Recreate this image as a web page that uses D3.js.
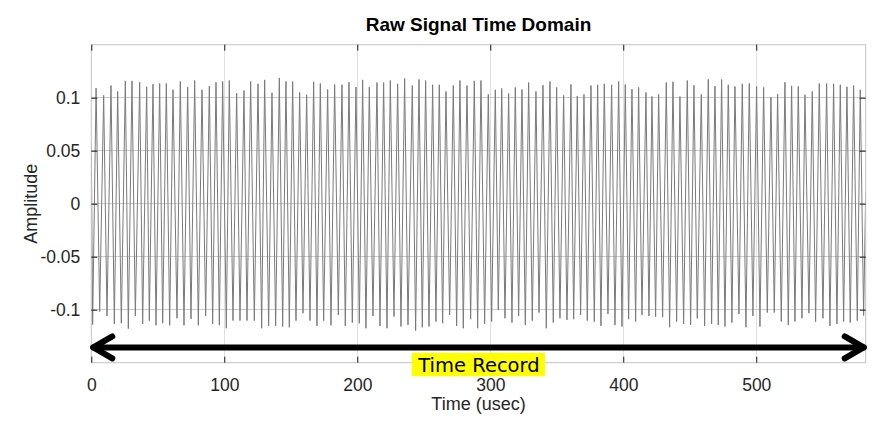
<!DOCTYPE html>
<html>
<head>
<meta charset="utf-8">
<script src="https://cdn.jsdelivr.net/npm/d3@7"></script>
<style>
  html, body { margin: 0; padding: 0; background: #fff; }
  svg { display: block; }
</style>
</head>
<body>
<svg id="chart" width="888" height="430"></svg>
<script>
// ---- Data (time in usec, amplitude) ----
const startPoint = [0, 0.0558];
const endPoint = [582.3, 0.0117];

const peakTimes = [
  3.6, 9.30, 14.81, 19.82, 25.59, 30.60, 36.37, 41.63, 46.39, 51.40, 56.42, 61.43, 66.94, 72.46, 77.72, 83.23, 88.75, 93.76, 98.77, 103.78,
  109.30, 114.81, 119.82, 125.34, 130.35, 135.86, 141.38, 146.39, 151.40, 156.67, 161.93, 167.19, 172.21, 177.72, 182.98, 188.50, 193.76,
  199.02, 204.03, 209.05, 214.81, 219.82, 224.84, 230.35, 235.61, 241.38, 246.39, 251.40, 256.66, 261.68, 266.69, 272.20, 277.22, 282.48,
  287.99, 293.01, 298.52, 303.78, 308.6, 313.81, 318.82, 323.84, 328.85, 334.36, 339.62, 344.89, 349.90, 355.16, 360.68, 365.44, 370.45,
  375.71, 380.73, 385.74,
  391.25, 396.52, 401.53, 406.54, 411.55, 417.07, 421.58, 426.59, 432.36, 437.37, 442.63, 448.14, 453.16, 458.67, 463.94, 468.95, 473.96,
  478.97, 483.98, 489.50, 494.76, 500.27, 505.54, 511.05, 516.07, 521.58, 526.59, 531.60, 536.62, 542.13, 547.40, 552.91, 558.17, 563.19,
  568.20, 573.21, 578.22
];
const peakValues = [
  0.1090, 0.1022, 0.1115, 0.1059, 0.1159, 0.1159, 0.1146, 0.1103, 0.1128, 0.1134, 0.1134, 0.1075, 0.1153, 0.1100, 0.1162, 0.1075, 0.1109, 0.1146, 0.1153, 0.1162,
  0.1043, 0.1068, 0.1153, 0.1131, 0.1168, 0.1047, 0.1187, 0.1153, 0.1153, 0.1050, 0.1028, 0.1150, 0.1134, 0.1078, 0.1125, 0.1122, 0.1146,
  0.1100, 0.1168, 0.1100, 0.1143, 0.1143, 0.1162, 0.1131, 0.1181, 0.1115, 0.1172, 0.1162, 0.1122, 0.1122, 0.1059, 0.1115, 0.1162, 0.1115,
  0.1159, 0.1162, 0.1031, 0.1075, 0.1087, 0.1040, 0.1097, 0.1078, 0.1143, 0.1059, 0.1118, 0.1153, 0.1097, 0.1022, 0.1125, 0.1015, 0.1031,
  0.1115, 0.1122, 0.1131,
  0.1122, 0.1153, 0.1125, 0.1081, 0.1097, 0.1050, 0.1012, 0.1031, 0.1143, 0.1150, 0.1012, 0.1162, 0.1118, 0.1031, 0.1172, 0.1109, 0.1172,
  0.1122, 0.1106, 0.1131, 0.1134, 0.1106, 0.1097, 0.1006, 0.1034, 0.1146, 0.1112, 0.1106, 0.1028, 0.1059, 0.1134, 0.1134, 0.1131,
  0.1122, 0.1103, 0.1115, 0.1075
];

const troughTimes = [
  1.0, 6.3, 11.80, 17.32, 22.58, 27.84, 33.11, 38.62, 43.63, 48.65, 53.66, 58.92, 64.44, 69.70, 74.96, 80.48, 85.99, 91.25, 96.27, 101.53,
  106.54, 111.81, 117.07, 122.58, 128.10, 133.36, 138.62, 143.89, 148.90, 153.91, 159.18, 164.44, 169.70, 174.71, 180.23, 185.74, 191.00,
  196.26, 201.53, 206.54, 211.80, 217.07, 222.33, 227.59, 232.86, 238.12, 243.88, 248.90, 253.91, 259.17, 264.18, 269.45, 274.71, 279.72,
  285.24, 290.50, 295.76, 301.03, 306.04, 311.05, 316.31, 321.33, 326.34, 331.60, 336.62, 342.13, 347.39, 352.40, 357.67, 362.68, 367.94,
  372.95, 378.22, 383.23, 388.49,
  393.76, 399.02, 404.03, 409.30, 414.06, 419.32, 424.33, 429.60, 434.86, 440.12, 445.39, 450.65, 455.66, 461.18, 466.44, 471.45, 476.47,
  481.73, 486.99, 492.26, 497.52, 502.78, 508.30, 513.56, 518.82, 524.09, 529.10, 534.36, 539.63, 544.64, 550.15, 555.42, 560.68, 565.69,
  570.70, 575.97, 580.75
];
const troughValues = [
  -0.1140, -0.1018, -0.1059, -0.1134, -0.1128, -0.1178, -0.1059, -0.1134, -0.1103, -0.1147, -0.1128, -0.1147, -0.1081, -0.1147, -0.1087, -0.1147, -0.1059, -0.1134, -0.1147, -0.1175,
  -0.1103, -0.1103, -0.1103, -0.1103, -0.1175, -0.1153, -0.1153, -0.1159, -0.1166, -0.1103, -0.1033, -0.1103, -0.1153, -0.1103, -0.1147, -0.1049, -0.1153,
  -0.1122, -0.1128, -0.1175, -0.1059, -0.1153, -0.1175, -0.1065, -0.1159, -0.1144, -0.1197, -0.1166, -0.1159, -0.1112, -0.1128, -0.1049, -0.1153, -0.1175,
  -0.1090, -0.1175, -0.1134, -0.1112, -0.1002, -0.1081, -0.1122, -0.1059, -0.1144, -0.1103, -0.1027, -0.1175, -0.1122, -0.1081, -0.1096, -0.1090, -0.1049,
  -0.1103, -0.1112, -0.1153, -0.1040,
  -0.1144, -0.1159, -0.1090, -0.1112, -0.1049, -0.1059, -0.1065, -0.1071, -0.1166, -0.1112, -0.1134, -0.1144, -0.1081, -0.1153, -0.1134, -0.1144, -0.1159,
  -0.1122, -0.1040, -0.1166, -0.1059, -0.1159, -0.1027, -0.1027, -0.1112, -0.1144, -0.1112, -0.1081, -0.1033, -0.1112, -0.1081, -0.1153, -0.1134, -0.1112,
  -0.1122, -0.1103, -0.1056
];

const xTicks = [0, 100, 200, 300, 400, 500];
const xTickLabels = ["0", "100", "200", "300", "400", "500"];
const yTicks = [-0.1, -0.05, 0, 0.05, 0.1];
const yTickLabels = ["-0.1", "-0.05", "0", "0.05", "0.1"];
const xDomain = [0, 582.3];
const yDomain = [-0.15, 0.15];

const titleText = "Raw Signal Time Domain";
const xLabelText = "Time (usec)";
const yLabelText = "Amplitude";

// annotation: double-headed arrow spanning the record, and its label
const arrowSpan = [0, 582.3];
const arrowLevel = -0.1356;
const annotText = "Time Record";
const annotPos = [291.5, -0.152];

// ---- Build ----
(function () {
const svg = d3.select("#chart");
const mL = 91.3, mR = 865.7, mT = 44.7, mB = 362.7;

const x = d3.scaleLinear().domain(xDomain).range([mL, mR]);
const y = d3.scaleLinear().domain(yDomain).range([mB, mT]);

const signal = [startPoint]
  .concat(peakTimes.map((t, i) => [t, peakValues[i]]))
  .concat(troughTimes.map((t, i) => [t, troughValues[i]]))
  .concat([endPoint])
  .sort((a, b) => a[0] - b[0]);

const textCol = "#262626";

// grid
const grid = svg.append("g");
grid.selectAll("line.vg").data(xTicks.filter(d => d > 0)).enter().append("line")
  .attr("x1", d => x(d)).attr("x2", d => x(d))
  .attr("y1", mT).attr("y2", mB)
  .attr("stroke", "#e0e0e0").attr("stroke-width", 1).attr("shape-rendering", "crispEdges");
grid.selectAll("line.hg").data(yTicks).enter().append("line")
  .attr("x1", mL).attr("x2", mR)
  .attr("y1", d => y(d)).attr("y2", d => y(d))
  .attr("stroke", "#cccccc").attr("stroke-width", 1).attr("shape-rendering", "crispEdges");

// clip
svg.append("clipPath").attr("id", "clip").append("rect")
  .attr("x", mL).attr("y", mT).attr("width", mR - mL).attr("height", mB - mT);

// signal
const line = d3.line().x(d => x(d[0])).y(d => y(d[1]));
svg.append("path")
  .datum(signal)
  .attr("clip-path", "url(#clip)")
  .attr("d", line)
  .attr("fill", "none")
  .attr("stroke", "#7a7a7a")
  .attr("stroke-width", 1)
  .attr("stroke-linejoin", "miter");

// box
svg.append("rect")
  .attr("x", mL).attr("y", mT).attr("width", mR - mL).attr("height", mB - mT)
  .attr("fill", "none").attr("stroke", "#c4c4c4").attr("stroke-width", 1);

// axes with inner ticks (d3 axes)
const tickLen = 6;
const xAxisB = d3.axisBottom(x).tickValues(xTicks).tickFormat((d, i) => xTickLabels[i]).tickSizeInner(-tickLen).tickSizeOuter(0).tickPadding(16);
const xAxisT = d3.axisTop(x).tickValues(xTicks).tickFormat("").tickSizeInner(-tickLen).tickSizeOuter(0);
const yAxisL = d3.axisLeft(y).tickValues(yTicks).tickFormat((d, i) => yTickLabels[i]).tickSizeInner(-tickLen).tickSizeOuter(0).tickPadding(11);
const yAxisR = d3.axisRight(y).tickValues(yTicks).tickFormat("").tickSizeInner(-tickLen).tickSizeOuter(0);

function styleAxis(g) {
  g.select(".domain").remove();
  g.selectAll(".tick line").attr("stroke", "#1a1a1a").attr("stroke-width", 1);
  g.selectAll(".tick text").attr("fill", textCol)
    .style("font-family", "'Liberation Sans', Arial, sans-serif").style("font-size", "17.5px");
}
svg.append("g").attr("transform", `translate(0,${mB})`).call(xAxisB).call(styleAxis);
svg.append("g").attr("transform", `translate(0,${mT})`).call(xAxisT).call(styleAxis);
svg.append("g").attr("transform", `translate(${mL},0)`).call(yAxisL).call(styleAxis);
svg.append("g").attr("transform", `translate(${mR},0)`).call(yAxisR).call(styleAxis);

// arrow annotation
const ay = y(arrowLevel);
const ax0 = x(arrowSpan[0]) + 2, ax1 = x(arrowSpan[1]) - 2;
const arrowG = svg.append("g").attr("fill", "none").attr("stroke", "#000")
  .attr("stroke-width", 6).attr("stroke-linecap", "round").attr("stroke-linejoin", "round");
arrowG.append("line").attr("x1", ax0).attr("x2", ax1).attr("y1", ay).attr("y2", ay);
arrowG.append("polyline").attr("points", `${ax0 + 19},${ay - 11} ${ax0},${ay} ${ax0 + 19},${ay + 11}`);
arrowG.append("polyline").attr("points", `${ax1 - 19},${ay - 11} ${ax1},${ay} ${ax1 - 19},${ay + 11}`);

// annotation label with yellow background
const lx = x(annotPos[0]), ly = y(annotPos[1]);
const lblG = svg.append("g");
const lblRect = lblG.append("rect").attr("fill", "#ffff00");
const lbl = lblG.append("text")
  .attr("x", lx).attr("y", ly + 7)
  .attr("text-anchor", "middle")
  .style("font-family", "'DejaVu Sans', sans-serif").style("font-size", "19.5px")
  .attr("fill", "#000")
  .text(annotText);
const bb = lbl.node().getBBox();
lblRect.attr("x", bb.x - 5.5).attr("width", bb.width + 11)
  .attr("y", ly - 12).attr("height", 23.5);

// title & labels
svg.append("text").attr("x", (mL + mR) / 2).attr("y", 31)
  .attr("text-anchor", "middle").attr("fill", "#000")
  .style("font-family", "'Liberation Sans', Arial, sans-serif").style("font-size", "19px").style("font-weight", "bold")
  .text(titleText);
svg.append("text").attr("x", (mL + mR) / 2).attr("y", 409.5)
  .attr("text-anchor", "middle").attr("fill", textCol)
  .style("font-family", "'Liberation Sans', Arial, sans-serif").style("font-size", "18px")
  .text(xLabelText);
svg.append("text").attr("transform", `translate(36.5,${(mT + mB) / 2}) rotate(-90)`)
  .attr("text-anchor", "middle").attr("fill", textCol)
  .style("font-family", "'Liberation Sans', Arial, sans-serif").style("font-size", "18px")
  .text(yLabelText);
})();
</script>
</body>
</html>
